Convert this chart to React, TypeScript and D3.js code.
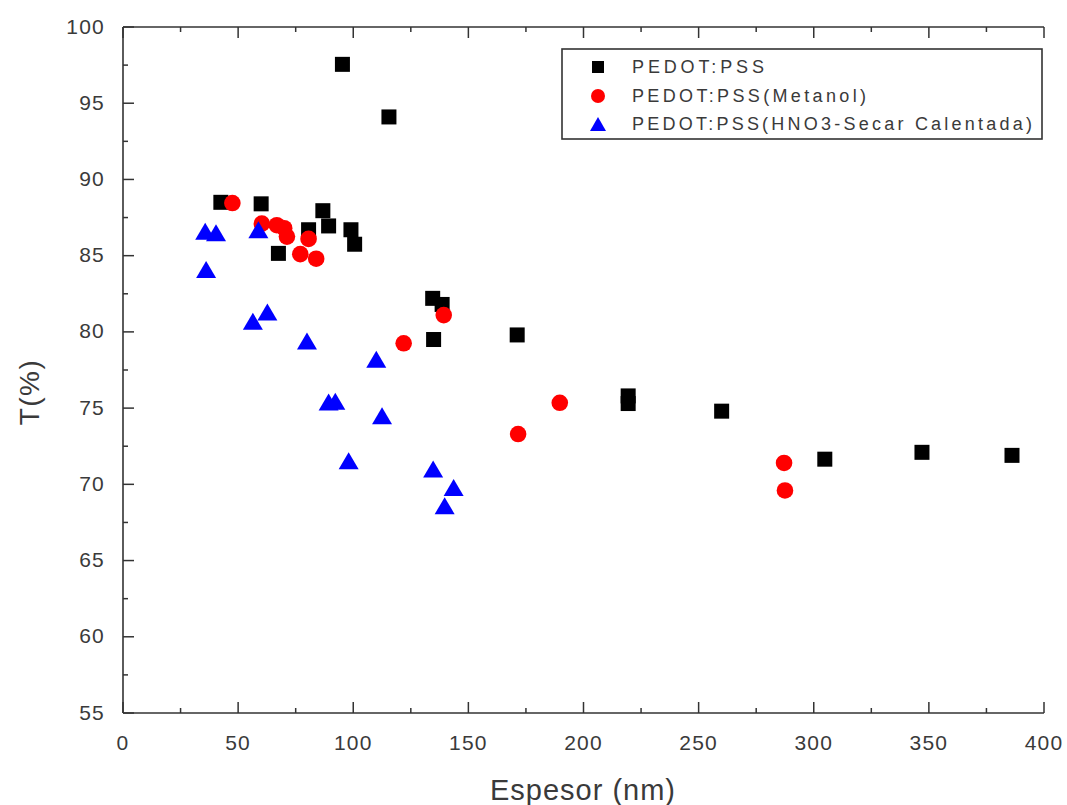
import React from "react";
import * as d3 from "d3";

const pedotX = [42.5, 60.0, 95.3, 115.5, 67.5, 80.6, 86.8, 89.3, 99.0, 100.6, 134.5, 138.6, 134.9, 171.2, 219.4, 219.4, 260.0, 304.8, 347.0, 386.1];
const pedotY = [88.5, 88.4, 97.55, 94.1, 85.15, 86.7, 87.95, 86.95, 86.7, 85.75, 82.2, 81.8, 79.5, 79.8, 75.8, 75.3, 74.8, 71.65, 72.1, 71.9];

const metanolX = [47.5, 60.3, 66.8, 70.0, 71.2, 80.6, 77.0, 83.9, 121.9, 139.3, 171.6, 189.7, 287.1, 287.5];
const metanolY = [88.45, 87.1, 87.0, 86.8, 86.25, 86.1, 85.1, 84.8, 79.25, 81.1, 73.3, 75.35, 71.4, 69.6];

const hno3X = [35.7, 40.4, 58.8, 36.1, 62.7, 56.4, 79.9, 110.0, 89.3, 92.2, 112.5, 98.0, 134.7, 143.6, 139.7];
const hno3Y = [86.6, 86.5, 86.7, 84.1, 81.3, 80.7, 79.4, 78.2, 75.4, 75.45, 74.5, 71.55, 71.0, 69.8, 68.6];

const xTicks = [0, 50, 100, 150, 200, 250, 300, 350, 400];
const yTicks = [55, 60, 65, 70, 75, 80, 85, 90, 95, 100];
const legendLabels = ["PEDOT:PSS", "PEDOT:PSS(Metanol)", "PEDOT:PSS(HNO3-Secar Calentada)"];

const W = 1067;
const H = 805;
const L = 123, R = 1044, T = 27, B = 713;

export default function App() {
  const x = d3.scaleLinear().domain([0, 400]).range([L, R]);
  const y = d3.scaleLinear().domain([55, 100]).range([B, T]);
  const axisColor = "#333";
  const textColor = "#3a3a3a";
  const font = "Arial, 'Liberation Sans', sans-serif";

  const xMinor = d3.range(0, 401, 25);
  const yMinor = d3.range(55, 100.01, 2.5);

  const tri = (w: number, h: number) => `M0,${-h / 2}L${w / 2},${h / 2}L${-w / 2},${h / 2}Z`;

  const legendRows = [67, 96, 124];
  const legendLens = [132, 234, 400];

  return (
    <svg width={W} height={H} style={{ position: "absolute", left: 0, top: 0, background: "#fff" }}>
      <rect x={0} y={0} width={W} height={H} fill="#fff" />
      {/* axes lines */}
      <line x1={L} y1={B} x2={R} y2={B} stroke={axisColor} strokeWidth={1.6} />
      <line x1={L} y1={T} x2={R} y2={T} stroke={axisColor} strokeWidth={1.6} />
      <line x1={L} y1={T} x2={L} y2={B} stroke={axisColor} strokeWidth={1.6} />

      {/* x ticks */}
      {xMinor.map((v) => {
        const major = v % 50 === 0;
        const len = major ? 11 : 5;
        return (
          <g key={"xt" + v}>
            <line x1={x(v)} x2={x(v)} y1={B} y2={B - len} stroke={axisColor} strokeWidth={1.5} />
            <line x1={x(v)} x2={x(v)} y1={T} y2={T + len} stroke={axisColor} strokeWidth={1.5} />
          </g>
        );
      })}
      {/* y ticks */}
      {yMinor.map((v) => {
        const major = Math.abs(v % 5) < 1e-6;
        const len = major ? 11 : 5;
        return <line key={"yt" + v} x1={L} x2={L + len} y1={y(v)} y2={y(v)} stroke={axisColor} strokeWidth={1.5} />;
      })}

      {/* tick labels */}
      {xTicks.map((v) => (
        <text key={"xl" + v} x={x(v)} y={742} textAnchor="middle" dominantBaseline="central" fontFamily={font} fontSize={21} letterSpacing={1.2} fill={textColor}>
          {v}
        </text>
      ))}
      {yTicks.map((v) => (
        <text key={"yl" + v} x={105} y={y(v) - 1} textAnchor="end" dominantBaseline="central" fontFamily={font} fontSize={21} letterSpacing={1.2} fill={textColor}>
          {v}
        </text>
      ))}

      {/* axis titles */}
      <text x={583} y={790} textAnchor="middle" dominantBaseline="central" fontFamily={font} fontSize={29} letterSpacing={1} fill={textColor}>
        Espesor (nm)
      </text>
      <text transform={`translate(29,392) rotate(-90)`} textAnchor="middle" dominantBaseline="central" fontFamily={font} fontSize={28} letterSpacing={1.5} fill={textColor}>
        T(%)
      </text>

      {/* data */}
      {pedotX.map((v, i) => (
        <rect key={"p" + i} x={x(v) - 7.5} y={y(pedotY[i]) - 7.5} width={15} height={15} fill="#000" />
      ))}
      {metanolX.map((v, i) => (
        <circle key={"m" + i} cx={x(v)} cy={y(metanolY[i])} r={8.3} fill="#ff0000" />
      ))}
      {hno3X.map((v, i) => (
        <path key={"h" + i} d={tri(20, 17)} transform={`translate(${x(v)},${y(hno3Y[i])})`} fill="#0000ff" />
      ))}

      {/* legend */}
      <rect x={562} y={49} width={480} height={90} fill="#fff" stroke={axisColor} strokeWidth={1.6} />
      <rect x={592} y={61} width={12} height={12} fill="#000" />
      <circle cx={598} cy={96} r={7} fill="#ff0000" />
      <path d={tri(16, 14)} transform="translate(598,124)" fill="#0000ff" />
      {legendLabels.map((t, i) => (
        <text key={"lg" + i} x={632} y={legendRows[i]} dominantBaseline="central" fontFamily={font} fontSize={18} fill={textColor} textLength={legendLens[i]} lengthAdjust="spacing">
          {t}
        </text>
      ))}
    </svg>
  );
}
